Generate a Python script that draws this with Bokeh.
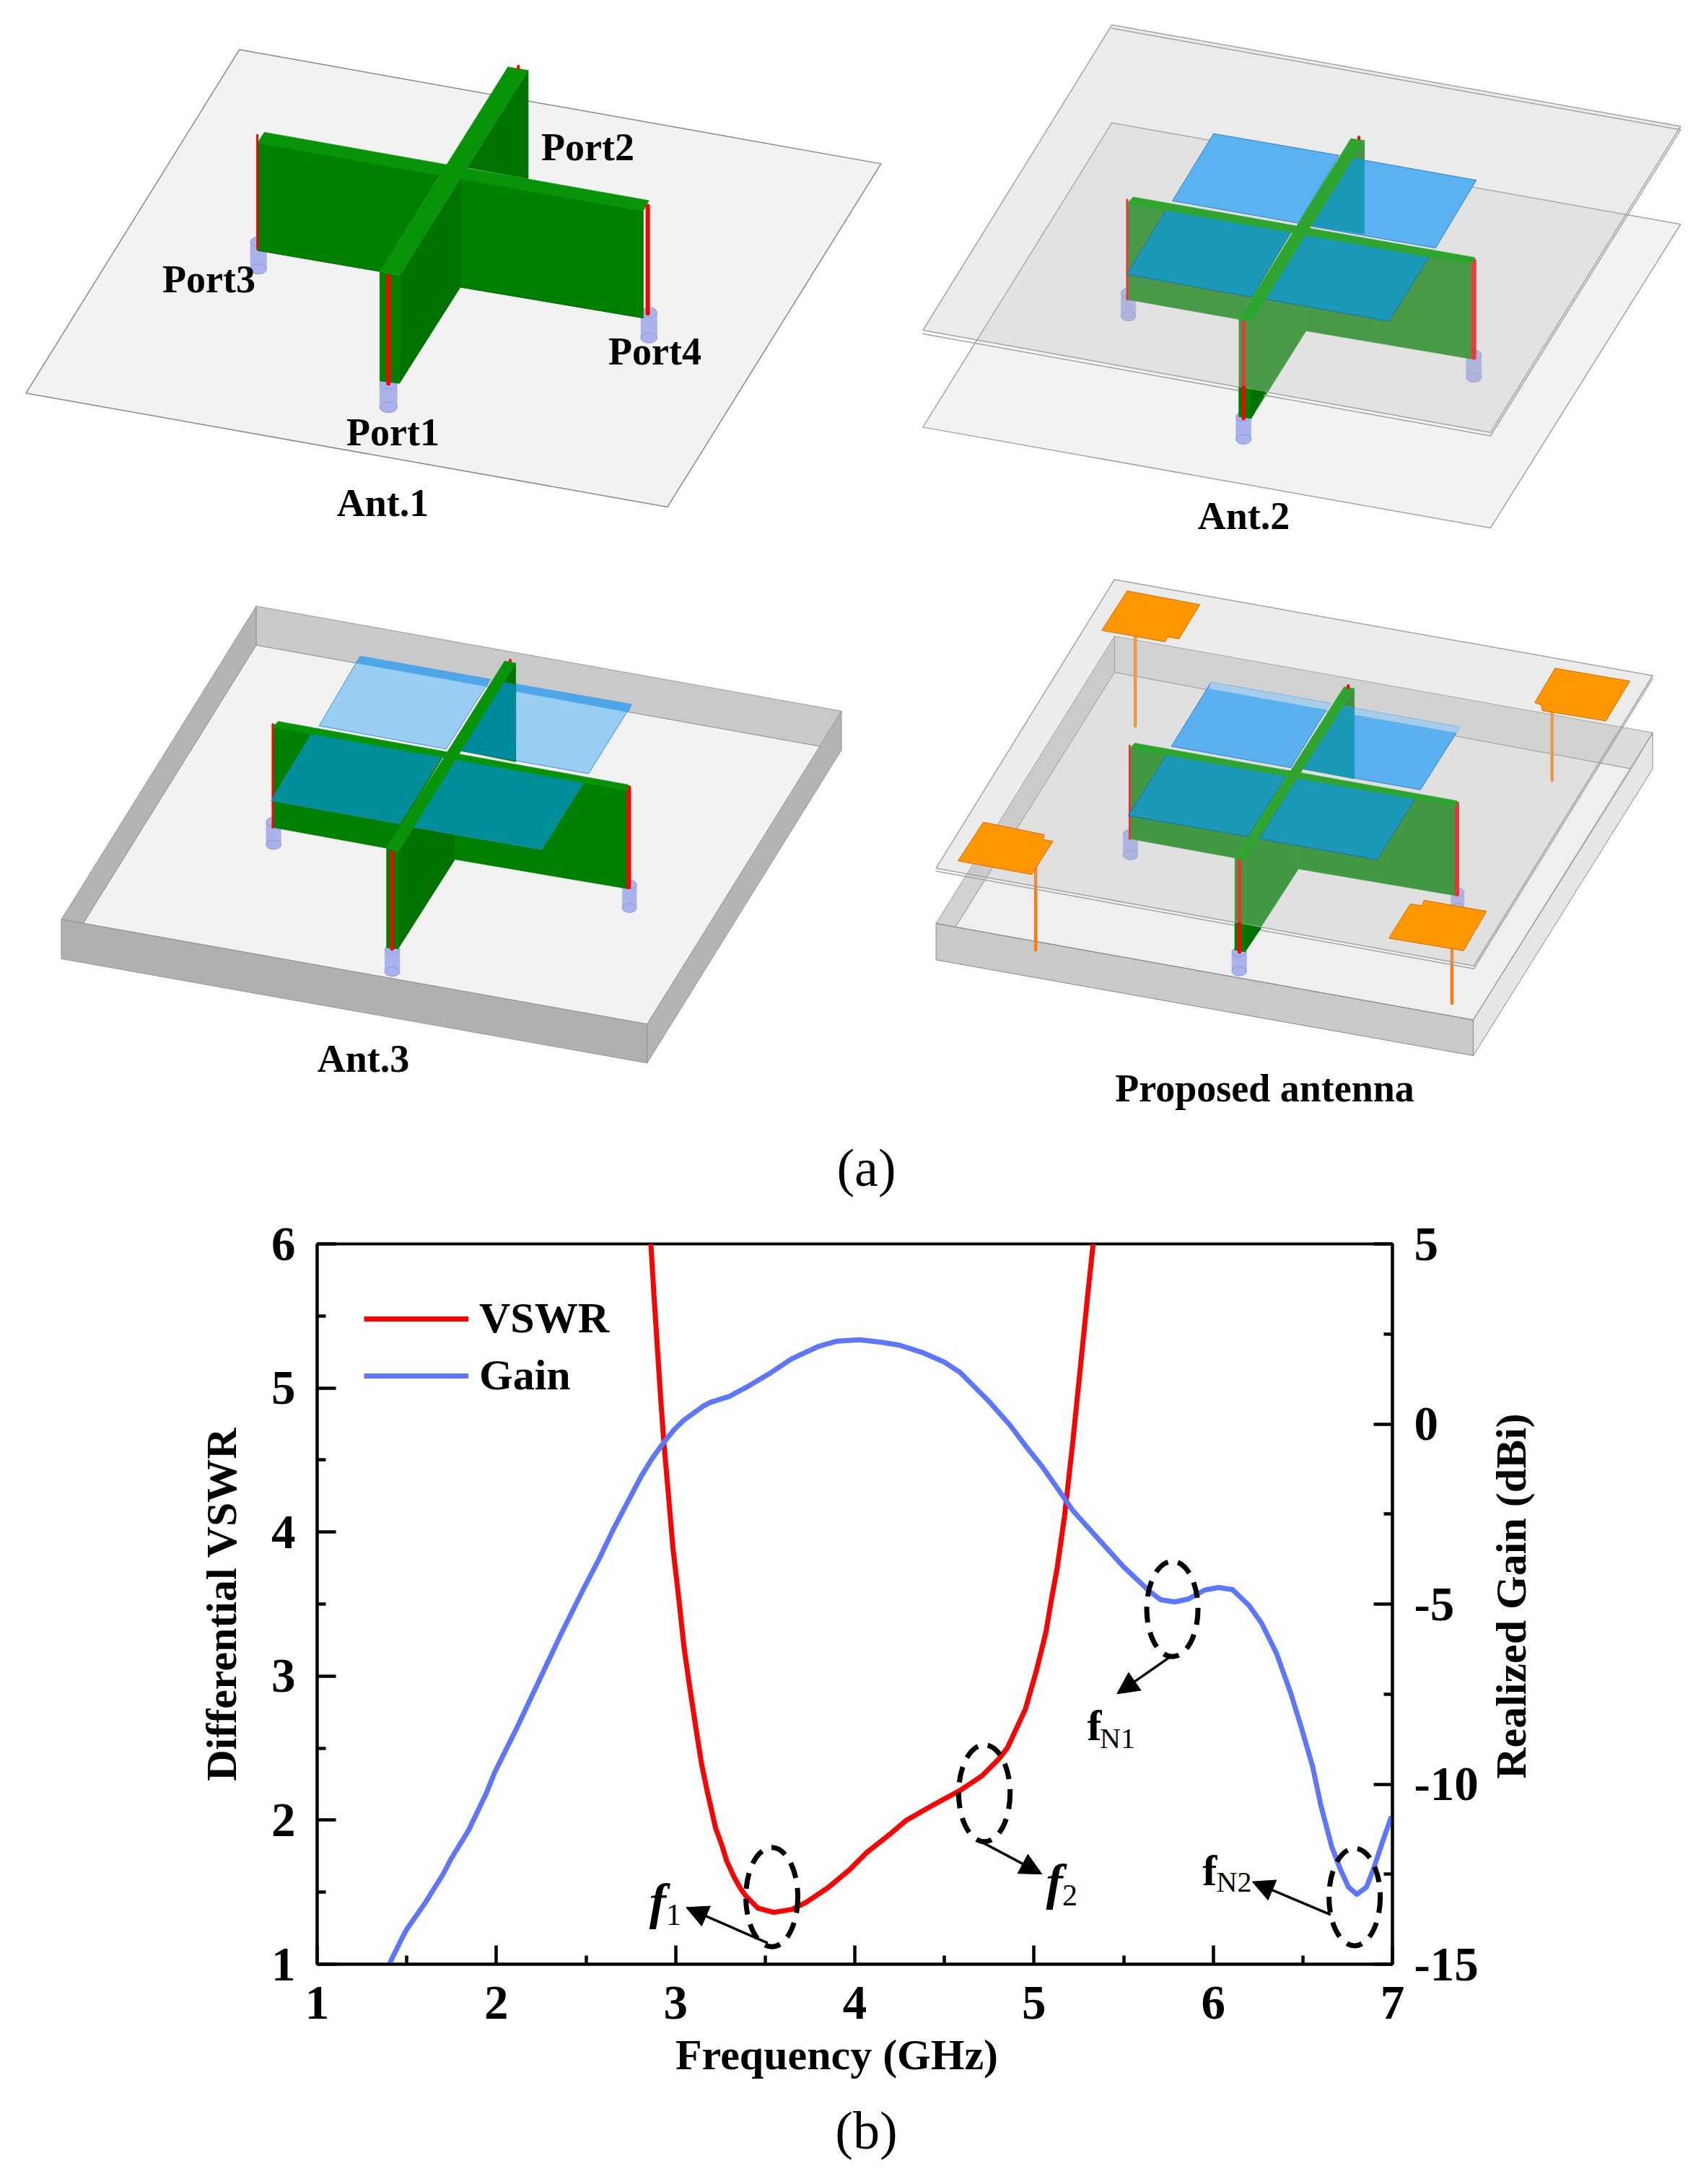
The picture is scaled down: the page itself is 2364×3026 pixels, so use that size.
from bokeh.plotting import figure
from bokeh.models import Range1d, LinearAxis, FixedTicker, Legend, LegendItem, Arrow, NormalHead
from bokeh.core.properties import value
from bokeh.embed import file_html
from bokeh.resources import INLINE
import math

SERIF = "Liberation Serif"

# ---------------------------- chart data -----------------------------------
vswr_freq = [2.862, 2.881, 2.901, 2.916, 2.936, 2.962, 2.985, 3.016, 3.047, 3.078, 3.117, 3.145, 3.177, 3.223, 3.259, 3.285,
             3.326, 3.362, 3.393, 3.46, 3.548, 3.648, 3.729, 3.85, 3.971, 4.064, 4.199, 4.286, 4.44, 4.588, 4.709, 4.803,
             4.852, 4.952, 5.014, 5.067, 5.098, 5.129, 5.17, 5.216, 5.265, 5.30, 5.33]
vswr_values = [6.0, 5.61, 5.23, 4.94, 4.6, 4.23, 3.89, 3.56, 3.2, 2.93, 2.61, 2.39, 2.197, 1.947, 1.823, 1.717,
               1.606, 1.526, 1.472, 1.389, 1.36, 1.38, 1.43, 1.531, 1.656, 1.773, 1.906, 1.998, 2.107, 2.207, 2.307, 2.424,
               2.503, 2.771, 3.04, 3.308, 3.538, 3.749, 4.107, 4.62, 5.22, 5.65, 6.0]
gain_freq = [1.402, 1.466, 1.497, 1.605, 1.705, 1.744, 1.844, 1.944, 1.99, 2.113, 2.237, 2.36, 2.483, 2.577, 2.654, 2.731,
             2.808, 2.87, 2.931, 2.993, 3.047, 3.155, 3.193, 3.301, 3.417, 3.533, 3.648, 3.795, 3.902, 4.026, 4.149, 4.249,
             4.38, 4.496, 4.588, 4.658, 4.75, 4.866, 4.95, 5.047, 5.12, 5.216, 5.353, 5.499, 5.645, 5.707, 5.784, 5.861,
             5.953, 6.03, 6.108, 6.2, 6.27, 6.354, 6.431, 6.493, 6.555, 6.601, 6.662, 6.709, 6.755, 6.801, 6.855, 6.894,
             6.94, 6.994]
gain_values = [-15.0, -14.35, -14.05, -13.28, -12.48, -12.1, -11.29, -10.25, -9.68, -8.45, -7.14, -5.84, -4.61, -3.71, -2.91,
               -2.18, -1.45, -0.95, -0.53, -0.15, 0.11, 0.5, 0.6, 0.77, 1.08, 1.43, 1.81, 2.15, 2.3, 2.34, 2.27, 2.19, 1.98,
               1.73, 1.43, 1.08, 0.62, -0.03, -0.59, -1.19, -1.71, -2.4, -3.16, -3.96, -4.65, -4.88, -4.94, -4.86, -4.61,
               -4.54, -4.6, -5.04, -5.53, -6.38, -7.45, -8.45, -9.52, -10.6, -11.75, -12.36, -12.86, -13.06, -12.86, -12.36,
               -11.67, -10.9]
freq_ticks = [1, 2, 3, 4, 5, 6, 7]
freq_minor = [1.5, 2.5, 3.5, 4.5, 5.5, 6.5]
vswr_ticks = [1, 2, 3, 4, 5, 6]
vswr_minor = [1.5, 2.5, 3.5, 4.5, 5.5]
gain_ticks = [-15, -10, -5, 0, 5]
gain_minor = [-12.5, -7.5, -2.5, 2.5]

# dashed marker ellipses: centre freq, centre VSWR, width, height
ell_x = [3.537, 4.723, 5.772, 6.789]
ell_y = [1.466, 2.187, 3.466, 1.466]
ell_w = [0.29, 0.287, 0.286, 0.286]
ell_h = [0.69, 0.672, 0.661, 0.676]
# leader arrows
arrow_x0 = [3.514, 4.698, 5.761, 6.655]
arrow_y0 = [1.147, 1.855, 3.135, 1.344]
arrow_x1 = [3.059, 5.044, 5.463, 6.218]
arrow_y1 = [1.394, 1.626, 2.877, 1.573]

# ---------------------------- sketch geometry -------------------------------
# each panel's outlines are noted in a local frame: origin and scale factors
P1 = dict(ox=0, oy=0, fx=1.244, fy=2.063)
P2 = dict(ox=1260, oy=0, fx=1.42, fy=2.063)
P3 = dict(ox=50, oy=800, fx=1.307, fy=1.96)
P4 = dict(ox=1260, oy=780, fx=1.42, fy=1.96)


def mapped(frame, pts):
    return ([frame["ox"] + x / frame["fx"] for x, _ in pts], [frame["oy"] + y / frame["fy"] for _, y in pts])


s = figure(width=2360, height=3020, x_range=Range1d(0, 2360), y_range=Range1d(3020, 0), output_backend="svg",
           toolbar_location=None, min_border=0, outline_line_color=None)
s.axis.visible = False
s.grid.visible = False


def poly(frame, pts, color, line=None, lw=1.0, alpha=1.0):
    xs, ys = mapped(frame, pts)
    s.patch(xs, ys, fill_color=color, fill_alpha=alpha, line_color=line if line else color, line_width=lw if line else 0.6,
            line_alpha=1.0 if line else alpha)


def seg(frame, pts, color, lw):
    xs, ys = mapped(frame, pts)
    s.line(xs, ys, line_color=color, line_width=lw, line_cap="round")


def post(frame, x0, x1, y0, y1, color="#a9b2ea", edge="#8f99dd"):
    xm = (x0 + x1) / 2
    xs, ys = mapped(frame, [(x0, y0), (x1, y0), (x1, y1), (x0, y1)])
    w = (x1 - x0) / frame["fx"]
    s.patch(xs, ys, fill_color=color, line_color=color, line_width=0.5)
    cx, cy = mapped(frame, [(xm, y0), (xm, y1)])
    s.ellipse(cx, cy, width=w, height=w * 0.62, fill_color=color, line_color=edge, line_width=1)


GREEN = "#008000"
DARK = "#007200"
STRIP = "#089408"
RED = "#ff0000"
EDGE = "#8a8a8a"
THIN = "#a4a4a4"
VEIL_GREEN = "#168c16"
VEIL_DARK = "#127e12"

# Panel 1: Ant.1
poly(P1, [(412, 141), (1518, 467), (1150, 1448), (44, 1123)], "#f2f2f2", EDGE, 1.5)
post(P1, 431, 459, 690, 768)
post(P1, 654, 684, 1095, 1163)
post(P1, 1104, 1132, 892, 965)
poly(P1, [(910, 200), (910, 510), (805, 478)], DARK)
poly(P1, [(443, 408), (758, 497), (654, 775), (443, 715)], GREEN, "#006800", 1)
poly(P1, [(793, 510), (1108, 603), (1108, 908), (793, 820)], GREEN, "#006800", 1)
poly(P1, [(793, 510), (793, 820), (688, 1095), (688, 787)], DARK)
poly(P1, [(654, 775), (688, 787), (688, 1095), (654, 1088)], GREEN)
poly(P1, [(455, 377), (1118, 572), (1108, 603), (443, 408)], STRIP)
poly(P1, [(875, 190), (910, 200), (688, 787), (654, 775)], STRIP)
seg(P1, [(443, 385), (443, 710)], RED, 3)
seg(P1, [(1116, 588), (1116, 895)], RED, 6)
seg(P1, [(669, 788), (669, 1095)], RED, 6)
seg(P1, [(893, 188), (893, 194)], RED, 4)

# Panel 2: Ant.2
poly(P2, [(398, 350), (1517, 640), (1143, 1508), (26, 1220)], "#f2f2f2", THIN, 1.5)
post(P2, 416, 445, 835, 903)
post(P2, 642, 672, 1190, 1255)
post(P2, 1095, 1125, 1013, 1078)
poly(P2, [(895, 400), (895, 670), (790, 645)], VEIL_DARK)
poly(P2, [(428, 580), (752, 660), (648, 912), (428, 855)], VEIL_GREEN)
poly(P2, [(780, 668), (1105, 755), (1105, 1025), (780, 945)], VEIL_GREEN)
poly(P2, [(780, 668), (780, 945), (672, 1195), (672, 920)], VEIL_GREEN)
poly(P2, [(648, 912), (672, 920), (672, 1195), (648, 1190)], VEIL_GREEN)
seg(P2, [(428, 570), (428, 855)], RED, 3)
seg(P2, [(1110, 745), (1110, 1020)], RED, 7)
seg(P2, [(657, 920), (657, 1195)], RED, 5)
poly(P2, [(398, 70), (1517, 360), (1143, 1235), (26, 943)], "#bcbcbc", THIN, 1.5, alpha=0.3)
seg(P2, [(26, 953), (1143, 1245)], THIN, 1.5)
seg(P2, [(398, 80), (1517, 370)], THIN, 1.5)
seg(P2, [(1143, 1245), (1517, 370)], THIN, 1.5)
poly(P2, [(648, 1106), (672, 1112), (672, 1195), (648, 1190)], GREEN)
poly(P2, [(672, 1112), (700, 1119), (672, 1195)], DARK)
seg(P2, [(657, 1106), (657, 1195)], RED, 5)
BACK2 = "#5bb2f0"
FRONT2 = "#1c98b8"
poly(P2, [(598, 381), (845, 443), (765, 637), (517, 573)], BACK2, "#2f80c8", 1)
poly(P2, [(868, 450), (1115, 514), (1035, 708), (787, 645)], BACK2, "#2f80c8", 1)
poly(P2, [(868, 450), (895, 457), (895, 668), (790, 645)], FRONT2)
poly(P2, [(508, 592), (755, 652), (673, 848), (427, 783)], FRONT2, "#1a70a8", 1)
poly(P2, [(778, 665), (1025, 727), (943, 917), (697, 853)], FRONT2, "#1a70a8", 1)
poly(P2, [(440, 562), (1112, 735), (1105, 755), (428, 580)], "#2ea52e")
poly(P2, [(868, 395), (895, 400), (672, 920), (648, 912)], "#2ea52e")
seg(P2, [(884, 391), (884, 396)], RED, 4)

# Panel 3: Ant.3
poly(P3, [(398, 183), (1420, 458), (1106, 1212), (85, 938)], "#f2f2f2", "#8a8a8a", 0.8)
poly(P3, [(398, 77), (1458, 362), (1420, 458), (398, 183)], "#c9c9c9", "#8a8a8a", 0.8)
poly(P3, [(398, 77), (398, 183), (85, 938), (45, 928)], "#b4b4b4", "#8a8a8a", 0.8)
poly(P3, [(45, 928), (1106, 1212), (1106, 1318), (45, 1035)], "#b0b0b0", "#8a8a8a", 0.8)
poly(P3, [(1458, 362), (1458, 468), (1106, 1318), (1106, 1212)], "#b4b4b4", "#8a8a8a", 0.8)
post(P3, 416, 443, 663, 725)
post(P3, 631, 658, 1010, 1070)
post(P3, 1061, 1087, 833, 897)
LIGHT3 = "#99cdf2"
BAND3 = "#4da6e8"
TEAL3 = "#008f99"
poly(P3, [(586, 213), (822, 276), (742, 465), (512, 402)], LIGHT3, "#3f8fd0", 1)
poly(P3, [(586, 213), (822, 276), (815, 295), (580, 232)], BAND3)
poly(P3, [(845, 283), (1078, 344), (1000, 532), (768, 470)], LIGHT3, "#3f8fd0", 1)
poly(P3, [(845, 283), (1078, 344), (1072, 365), (838, 300)], BAND3)
poly(P3, [(868, 232), (868, 500), (770, 470)], DARK)
poly(P3, [(845, 283), (868, 290), (868, 497), (770, 470)], "#008a9b")
poly(P3, [(428, 398), (738, 482), (636, 735), (428, 678)], GREEN)
poly(P3, [(758, 490), (1072, 578), (1072, 845), (758, 765)], GREEN)
poly(P3, [(758, 490), (758, 765), (655, 1008), (655, 745)], DARK)
poly(P3, [(634, 735), (655, 745), (655, 1008), (634, 1005)], GREEN)
seg(P3, [(428, 398), (428, 678)], RED, 3)
seg(P3, [(1073, 570), (1073, 840)], RED, 6)
seg(P3, [(644, 745), (644, 1008)], RED, 5)
seg(P3, [(858, 224), (858, 230)], RED, 4)
poly(P3, [(500, 420), (735, 482), (658, 668), (425, 605)], TEAL3, "#2a86b8", 1)
poly(P3, [(758, 490), (992, 553), (915, 738), (682, 677)], TEAL3, "#2a86b8", 1)
poly(P3, [(438, 390), (1072, 562), (1072, 578), (428, 405)], STRIP)
poly(P3, [(848, 226), (868, 232), (655, 745), (634, 735)], STRIP)

# Panel 4: Proposed antenna
poly(P4, [(403, 296), (1420, 558), (1109, 1240), (90, 988)], "#efefef", "#8a8a8a", 0.8)
poly(P4, [(403, 198), (1462, 460), (1420, 558), (403, 296)], "#dcdcdc", "#8a8a8a", 0.8)
poly(P4, [(403, 198), (403, 296), (90, 988), (52, 978)], "#d2d2d2", "#8a8a8a", 0.8)
poly(P4, [(52, 978), (1109, 1240), (1109, 1337), (52, 1077)], "#c9c9c9", "#8a8a8a", 1)
poly(P4, [(1462, 460), (1462, 558), (1109, 1337), (1109, 1240)], "#e6e6e6", "#8a8a8a", 1)
seg(P4, [(52, 978), (90, 988), (1109, 1240), (1420, 558), (1462, 460)], "#8a8a8a", 0.8)
post(P4, 420, 449, 735, 793)
post(P4, 634, 663, 1055, 1108)
post(P4, 1065, 1091, 893, 935)
poly(P4, [(875, 340), (875, 585), (775, 558)], VEIL_DARK)
poly(P4, [(433, 500), (745, 572), (640, 800), (433, 748)], VEIL_GREEN)
poly(P4, [(765, 578), (1077, 660), (1077, 903), (765, 830)], VEIL_GREEN)
poly(P4, [(765, 578), (765, 830), (660, 1055), (660, 805)], VEIL_GREEN)
poly(P4, [(640, 800), (660, 805), (660, 1055), (640, 1050)], VEIL_GREEN)
seg(P4, [(433, 495), (433, 748)], RED, 3)
seg(P4, [(1077, 652), (1077, 898)], RED, 6)
seg(P4, [(649, 808), (649, 1055)], RED, 5)
seg(P4, [(444, 195), (444, 442)], "#ff8c1a", 4.5)
seg(P4, [(1264, 400), (1264, 590)], "#ff8c1a", 4.5)
seg(P4, [(248, 820), (248, 1050)], "#ff7a10", 4.5)
seg(P4, [(1067, 1050), (1067, 1195)], "#ff7a10", 4.5)
poly(P4, [(403, 44), (1462, 305), (1110, 1093), (52, 828)], "#bcbcbc", THIN, 1.5, alpha=0.28)
seg(P4, [(52, 836), (1110, 1101), (1462, 313)], THIN, 1.5)
poly(P4, [(640, 976), (660, 981), (660, 1055), (640, 1050)], GREEN)
poly(P4, [(660, 981), (692, 990), (660, 1055)], DARK)
seg(P4, [(649, 978), (649, 1055)], RED, 5)
BACK4 = "#5bb0f0"
BAND4 = "#a6cdec"
FRONT4 = "#1c98b8"
poly(P4, [(593, 323), (828, 380), (750, 555), (515, 497)], BACK4, "#2f80c8", 1)
poly(P4, [(593, 323), (828, 380), (822, 398), (590, 340)], BAND4)
poly(P4, [(850, 387), (1083, 445), (1005, 615), (772, 558)], BACK4, "#2f80c8", 1)
poly(P4, [(850, 387), (1083, 445), (1077, 460), (843, 403)], BAND4)
poly(P4, [(850, 387), (875, 393), (875, 585), (772, 558)], FRONT4)
poly(P4, [(508, 515), (742, 575), (665, 742), (430, 685)], FRONT4, "#1a70a8", 1)
poly(P4, [(765, 578), (997, 633), (920, 805), (688, 748)], FRONT4, "#1a70a8", 1)
poly(P4, [(443, 488), (1077, 645), (1077, 660), (433, 503)], "#2ea52e")
poly(P4, [(855, 335), (875, 340), (660, 805), (640, 800)], "#2ea52e")
seg(P4, [(863, 332), (863, 338)], RED, 4)
ORANGE = "#ff9800"
ORLINE = "#d96a00"
poly(P4, [(428, 75), (571, 112), (530, 205), (508, 200), (502, 213), (378, 182)], ORANGE, ORLINE, 1)
poly(P4, [(1270, 285), (1417, 320), (1370, 428), (1245, 400), (1243, 385), (1230, 378)], ORANGE, ORLINE, 1)
poly(P4, [(145, 703), (265, 737), (262, 750), (282, 755), (240, 845), (95, 808)], ORANGE, ORLINE, 1)
poly(P4, [(985, 925), (1008, 930), (1012, 915), (1135, 945), (1090, 1052), (943, 1018)], ORANGE, ORLINE, 1)

label_x = [814, 289, 907, 544, 530, 1723, 503, 1752]
label_y = [203, 386, 486, 598, 696, 714, 1466, 1507]
label_text = ["Port2", "Port3", "Port4", "Port1", "Ant.1", "Ant.2", "Ant.3", "Proposed antenna"]
s.text(label_x, label_y, text=label_text, text_font=value(SERIF), text_font_style="bold", text_font_size="54px",
       text_color="#000000", text_align="center", text_baseline="middle")
s.text([1200, 1200], [1617, 2951], text=["(a)", "(b)"], text_font=value(SERIF), text_font_size="74px", text_color="#000000",
       text_align="center", text_baseline="middle")
s.text([1159], [2846], text=["Frequency (GHz)"], text_font=value(SERIF), text_font_style="bold", text_font_size="60px",
       text_color="#000000", text_align="center", text_baseline="middle")
s.text([2093], [2211], text=["Realized Gain (dBi)"], text_font=value(SERIF), text_font_style="bold", text_font_size="60px",
       text_color="#000000", text_align="center", text_baseline="middle", angle=math.pi / 2)

# ---------------------------- chart -----------------------------------------
p = figure(width=2360, height=1340, x_range=Range1d(1, 7), y_range=Range1d(1, 6), output_backend="svg",
           toolbar_location=None, min_border_left=439, min_border_right=431, min_border_top=43, min_border_bottom=299,
           outline_line_color="#000000", outline_line_width=4, background_fill_alpha=0, border_fill_alpha=0,
           styles={"margin-top": "-1340px"})
p.grid.visible = False
p.extra_y_ranges = {"gain": Range1d(-15, 5)}


def style(ax, ticks, minor):
    ax.ticker = FixedTicker(ticks=ticks, minor_ticks=minor)
    ax.axis_line_color = "#000000"
    ax.axis_line_width = 4
    ax.major_tick_line_color = "#000000"
    ax.major_tick_line_width = 4.5
    ax.major_tick_in = 26
    ax.major_tick_out = 0
    ax.minor_tick_line_color = "#000000"
    ax.minor_tick_line_width = 4.5
    ax.minor_tick_in = 12
    ax.minor_tick_out = 0
    ax.major_label_text_font = SERIF
    ax.major_label_text_font_style = "bold"
    ax.major_label_text_font_size = "67px"
    ax.major_label_text_color = "#000000"
    ax.axis_label_text_font = SERIF
    ax.axis_label_text_font_style = "bold"
    ax.axis_label_text_font_size = "60px"
    ax.axis_label_text_color = "#000000"


style(p.xaxis[0], freq_ticks, freq_minor)
style(p.yaxis[0], vswr_ticks, vswr_minor)
p.xaxis[0].major_label_standoff = 31
p.yaxis[0].axis_label = "Differential VSWR"
p.yaxis[0].axis_label_standoff = 33
p.yaxis[0].major_label_standoff = 30

right = LinearAxis(y_range_name="gain")
style(right, gain_ticks, gain_minor)
right.major_label_standoff = 30
right.major_label_overrides = {t: str(t) for t in gain_ticks}
p.add_layout(right, "right")

red = p.line(vswr_freq, vswr_values, line_color="#ff0000", line_width=7, line_join="round")
blue = p.line(gain_freq, gain_values, y_range_name="gain", line_color="#5c76ff", line_width=7, line_join="round")

legend = Legend(items=[LegendItem(label="VSWR", renderers=[red]), LegendItem(label="Gain", renderers=[blue])],
                location=(65, 781), background_fill_alpha=0, border_line_alpha=0, padding=0, margin=0, spacing=10,
                glyph_width=145, glyph_height=50, label_height=50, label_standoff=15, label_text_font=SERIF,
                label_text_font_style="bold", label_text_font_size="60px", label_text_color="#000000")
p.add_layout(legend)

p.ellipse(ell_x, ell_y, width=ell_w, height=ell_h, fill_alpha=0, line_color="#000000", line_width=7, line_dash="22 14")
for x0, y0, x1, y1 in zip(arrow_x0, arrow_y0, arrow_x1, arrow_y1):
    p.add_layout(Arrow(x_start=x0, y_start=y0, x_end=x1, y_end=y1, line_color="#000000", line_width=3.5,
                       end=NormalHead(size=30, fill_color="#000000", line_color="#000000", line_width=1)))


def ann(x, y, text, size, style_="normal"):
    p.text([x], [y], text=[text], text_font=value(SERIF), text_font_style=style_, text_font_size=size, text_color="#000000",
           text_align="center", text_baseline="alphabetic")


ann(2.90, 1.436, "f", "70px", "bold italic")
ann(2.989, 1.343, "1", "42px")
ann(5.114, 1.571, "f", "70px", "bold italic")
ann(5.20, 1.478, "2", "42px")
ann(5.337, 2.656, "f", "60px", "bold")
ann(5.466, 2.57, "N1", "40px")
ann(5.98, 1.65, "f", "60px", "bold")
ann(6.116, 1.573, "N2", "40px")

open("out.html", "w").write(file_html([s, p], INLINE))
